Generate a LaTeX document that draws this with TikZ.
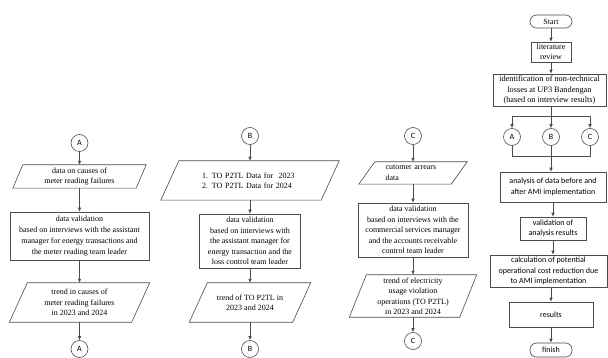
\documentclass[tikz,border=0pt]{standalone}
\usepackage{fontspec}
\setmainfont{Liberation Serif}
\newfontfamily\calib{Carlito}
\usetikzlibrary{arrows.meta}
\tikzset{
  ln/.style={draw=black!70, line width=0.6pt},
  arr/.style={ln, -{Latex[length=4pt,width=3.6pt]}},
  txt/.style={inner sep=0pt, align=center, font=\fontsize{8}{10.5}\selectfont},
  box/.style={txt, draw=black!70, line width=0.6pt},
  cbox/.style={box, font=\calib\fontsize{8}{10.5}\selectfont},
  circ/.style={draw=black!70, line width=0.6pt, circle, minimum size=17pt, inner sep=0pt, font=\calib\fontsize{8}{9}\selectfont},
  term/.style={box, rounded corners=6.5pt},
  cterm/.style={cbox, rounded corners=6.5pt}
}
\newcommand\paraoutline[2]{\draw[ln] ([xshift=#2]#1.north west) -- (#1.north east) -- ([xshift=-#2]#1.south east) -- (#1.south west) -- cycle;}
\begin{document}
\begin{tikzpicture}[x=1pt,y=-1pt]
\useasboundingbox[fill=white] (0,0) rectangle (608,358);

% ---------- Column A ----------
\node[circ] (cA1) at (79.5,143) {A};
\node[txt, minimum width=133pt, minimum height=23pt] (pA1) at (79.5,176.5) {data on causes of\\meter reading failures};
\paraoutline{pA1}{10pt}
\node[box, minimum width=139pt, minimum height=48pt, font=\fontsize{8}{11}\selectfont] (rA) at (79.5,236) {data validation\\based on interviews with the assistant\\manager for energy transactions and\\the meter reading team leader};
\node[txt, minimum width=140pt, minimum height=39pt] (pA2) at (79.5,302.5) {trend in causes of\\meter reading failures\\in 2023 and 2024};
\paraoutline{pA2}{18pt}
\node[circ] (cA2) at (79.5,349) {A};
\draw[arr] (cA1.south) -- (pA1.north);
\draw[arr] (pA1.south) -- (rA.north);
\draw[arr] (rA.south) -- (pA2.north);
\draw[arr] (pA2.south) -- (cA2.north);

% ---------- Column B ----------
\node[circ] (cB1) at (250,136) {B};
\node[txt, minimum width=178pt, minimum height=39pt, text width=100pt, align=left] (pB1) at (250,180.5) {\hspace*{2pt}1. TO P2TL Data for~ 2023\\\hspace*{2pt}2. TO P2TL Data for 2024};
\paraoutline{pB1}{18pt}
\node[box, minimum width=101pt, minimum height=54pt] (rB) at (250,241) {data validation\\based on interviews with\\the assistant manager for\\energy transaction and the\\loss control team leader};
\node[txt, minimum width=121pt, minimum height=39pt] (pB2) at (250,302.5) {trend of TO P2TL in\\2023 and 2024};
\paraoutline{pB2}{18pt}
\node[circ] (cB2) at (250,349) {B};
\draw[arr] (cB1.south) -- (pB1.north);
\draw[arr] (pB1.south) -- (rB.north);
\draw[arr] (rB.south) -- (pB2.north);
\draw[arr] (pB2.south) -- (cB2.north);

% ---------- Column C ----------
\node[circ] (cC1) at (413,136) {C};
\node[txt, minimum width=108pt, minimum height=22pt, align=left, text width=55pt] (pC1) at (413,173) {cutomer arrears\\data};
\paraoutline{pC1}{16pt}
\node[box, minimum width=110pt, minimum height=54pt] (rC) at (413,230) {data validation\\based on interviews with the\\commercial services manager\\and the accounts receivable\\control team leader};
\node[txt, minimum width=127pt, minimum height=42pt] (pC2) at (413,296) {trend of electricity\\usage violation\\operations (TO P2TL)\\in 2023 and 2024};
\paraoutline{pC2}{17pt}
\node[circ] (cC2) at (413,341) {C};
\draw[arr] (cC1.south) -- (pC1.north);
\draw[arr] (pC1.south) -- (rC.north);
\draw[arr] (rC.south) -- (pC2.north);
\draw[arr] (pC2.south) -- (cC2.north);

% ---------- Main column ----------
\node[term, minimum width=42pt, minimum height=13pt] (start) at (551,21.5) {Start};
\node[box, minimum width=40pt, minimum height=20pt] (lit) at (551,52) {literature\\review};
\node[box, minimum width=113pt, minimum height=32pt, font=\fontsize{8.3}{10.5}\selectfont] (ident) at (549.5,90) {identification of non-technical\\losses at UP3 Bandengan\\(based on interview results)};
\node[circ] (mA) at (512,137) {A};
\node[circ] (mB) at (551,137) {B};
\node[circ] (mC) at (590,137) {C};
\coordinate (s1) at (551,116);
\coordinate (s1a) at (512,116);
\coordinate (s1c) at (590,116);
\coordinate (j1) at (551,156);
\coordinate (j1a) at (512,156);
\coordinate (j1c) at (590,156);
\node[cbox, minimum width=106pt, minimum height=30pt] (ana) at (553,187) {analysis of data before and\\after AMI implementation};
\node[cbox, minimum width=66pt, minimum height=23pt] (val) at (553,228.5) {validation of\\analysis results};
\node[cbox, minimum width=117pt, minimum height=32pt] (calc) at (548.5,271) {calculation of potential\\operational cost reduction due\\to AMI implementation};
\node[cbox, minimum width=84pt, minimum height=25pt] (res) at (551,314.5) {results};
\node[cterm, minimum width=42pt, minimum height=14pt] (fin) at (551,350) {finish};

\draw[arr] (start.south) -- (lit.north);
\draw[arr] (lit.south) -- (lit.south |- ident.north);
\draw[ln] (ident.south -| s1) -- (s1);
\draw[ln] (s1a) -- (s1c);
\draw[arr] (s1a) -- (mA.north);
\draw[arr] (s1) -- (mB.north);
\draw[arr] (s1c) -- (mC.north);
\draw[ln] (mA.south) -- (j1a) -- (j1c) -- (mC.south);
\draw[ln] (mB.south) -- (j1);
\draw[arr] (j1) -- (j1 |- ana.north);
\draw[arr] (ana.south -| val.north) -- (val.north);
\draw[arr] (val.south) -- (val.south |- calc.north);
\draw[arr] (calc.south -| res.north) -- (res.north);
\draw[arr] (res.south) -- (fin.north);
\end{tikzpicture}
\end{document}
